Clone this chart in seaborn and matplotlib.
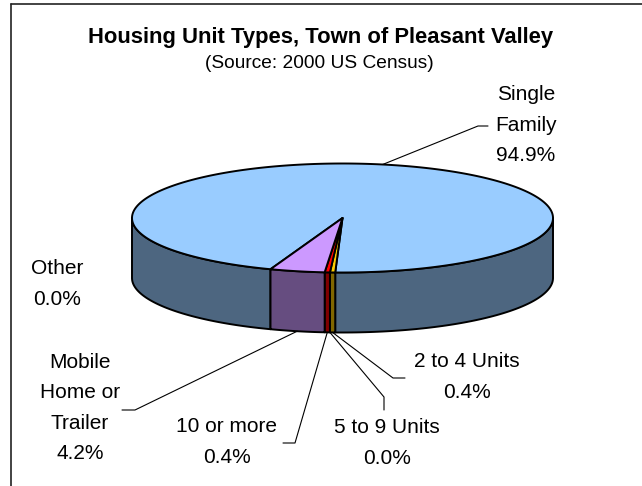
import numpy as np
import matplotlib
matplotlib.use("Agg")
import matplotlib.pyplot as plt
from matplotlib.patches import Polygon
import seaborn as sns

# Data (2000 US Census, Town of Pleasant Valley)
categories = ["Single Family", "2 to 4 Units", "5 to 9 Units", "10 or more",
              "Mobile Home or Trailer", "Other"]
percent = [94.9, 0.4, 0.0, 0.4, 4.2, 0.0]
label_names = ["Single\nFamily", "2 to 4 Units", "5 to 9 Units", "10 or more",
               "Mobile\nHome or\nTrailer", "Other"]
top_colors = ["#99CCFF", "#FFCC00", "#FFFF99", "#FF0000", "#CC99FF", "#C0C0C0"]

# label layout (pixel coords) and leader elbows
label_pos = [(526, 125), (467, 377), (387, 443), (227, 442), (80, 408), (57, 284)]
leader_elbow = [[(488, 126), (478, 126)],
                [(405, 378), (393, 378)],
                [(384, 410), (384, 397)],
                [(283, 443), (295, 443)],
                [(122, 410), (135, 410)],
                None]

sns.set_theme(style="white")
plt.rcParams["font.family"] = ["Liberation Sans", "DejaVu Sans"]
plt.rcParams["text.color"] = "black"

palette = sns.color_palette(top_colors)
side_colors = [tuple(c * 0.5 for c in col) for col in palette]

# 3D pie geometry
cx, cy, rx, ry, depth = 342.5, 218.0, 210.5, 54.5, 60.0
start = 110.0


def pt(theta, dy=0.0):
    t = np.deg2rad(theta)
    return cx + rx * np.cos(t), cy + ry * np.sin(t) + dy


fig = plt.figure(figsize=(6.42, 4.86), dpi=100)
ax = fig.add_axes([0, 0, 1, 1])
ax.set_xlim(0, 642)
ax.set_ylim(486, 0)
ax.axis("off")

frac = np.array(percent) / sum(percent)
ends = start + np.cumsum(frac) * 360
begins = ends - frac * 360

# side walls (front half only)
for i in range(len(categories)):
    a, b = begins[i], ends[i]
    if b - a <= 0:
        continue
    for off in (0, 360):
        lo, hi = max(a, off), min(b, off + 180)
        if hi <= lo:
            continue
        th = np.linspace(lo, hi, 80)
        xs, ys = pt(th)
        poly = np.vstack([np.column_stack([xs, ys]),
                          np.column_stack([xs[::-1], ys[::-1] + depth])])
        ax.add_patch(Polygon(poly, closed=True, facecolor=side_colors[i],
                             edgecolor="black", lw=1.4, joinstyle="round"))

# top faces
for i in range(len(categories)):
    a, b = begins[i], ends[i]
    if b - a <= 0:
        continue
    th = np.linspace(a, b, max(int((b - a) * 2), 4))
    xs, ys = pt(th)
    poly = np.vstack([[cx, cy], np.column_stack([xs, ys])])
    ax.add_patch(Polygon(poly, closed=True, facecolor=palette[i],
                         edgecolor="black", lw=1.4, joinstyle="round"))

# labels and leader lines
for i, name in enumerate(label_names):
    x, y = label_pos[i]
    ax.text(x, y, f"{name}\n{percent[i]:.1f}%", ha="center", va="center",
            fontsize=15, linespacing=1.77, color="black")
    if leader_elbow[i] is None:
        continue
    mid = (begins[i] + ends[i]) / 2
    front = np.sin(np.deg2rad(mid)) > 0
    ax_, ay_ = pt(mid, depth if front else 0.0)
    pts = leader_elbow[i] + [(ax_, ay_)]
    ax.plot([p[0] for p in pts], [p[1] for p in pts], color="black", lw=0.8)

# titles
ax.text(321, 37, "Housing Unit Types, Town of Pleasant Valley", ha="center",
        va="center", fontsize=15.8, fontweight="bold", color="black")
ax.text(319, 63, "(Source: 2000 US Census)", ha="center", va="center",
        fontsize=13.8, color="black")

# chart area frame (top and left edges visible)
ax.plot([11, 642], [4, 4], color="#222222", lw=1.2)
ax.plot([11, 11], [4, 486], color="#222222", lw=1.2)

fig.savefig("out.png", dpi=100, facecolor="white")
